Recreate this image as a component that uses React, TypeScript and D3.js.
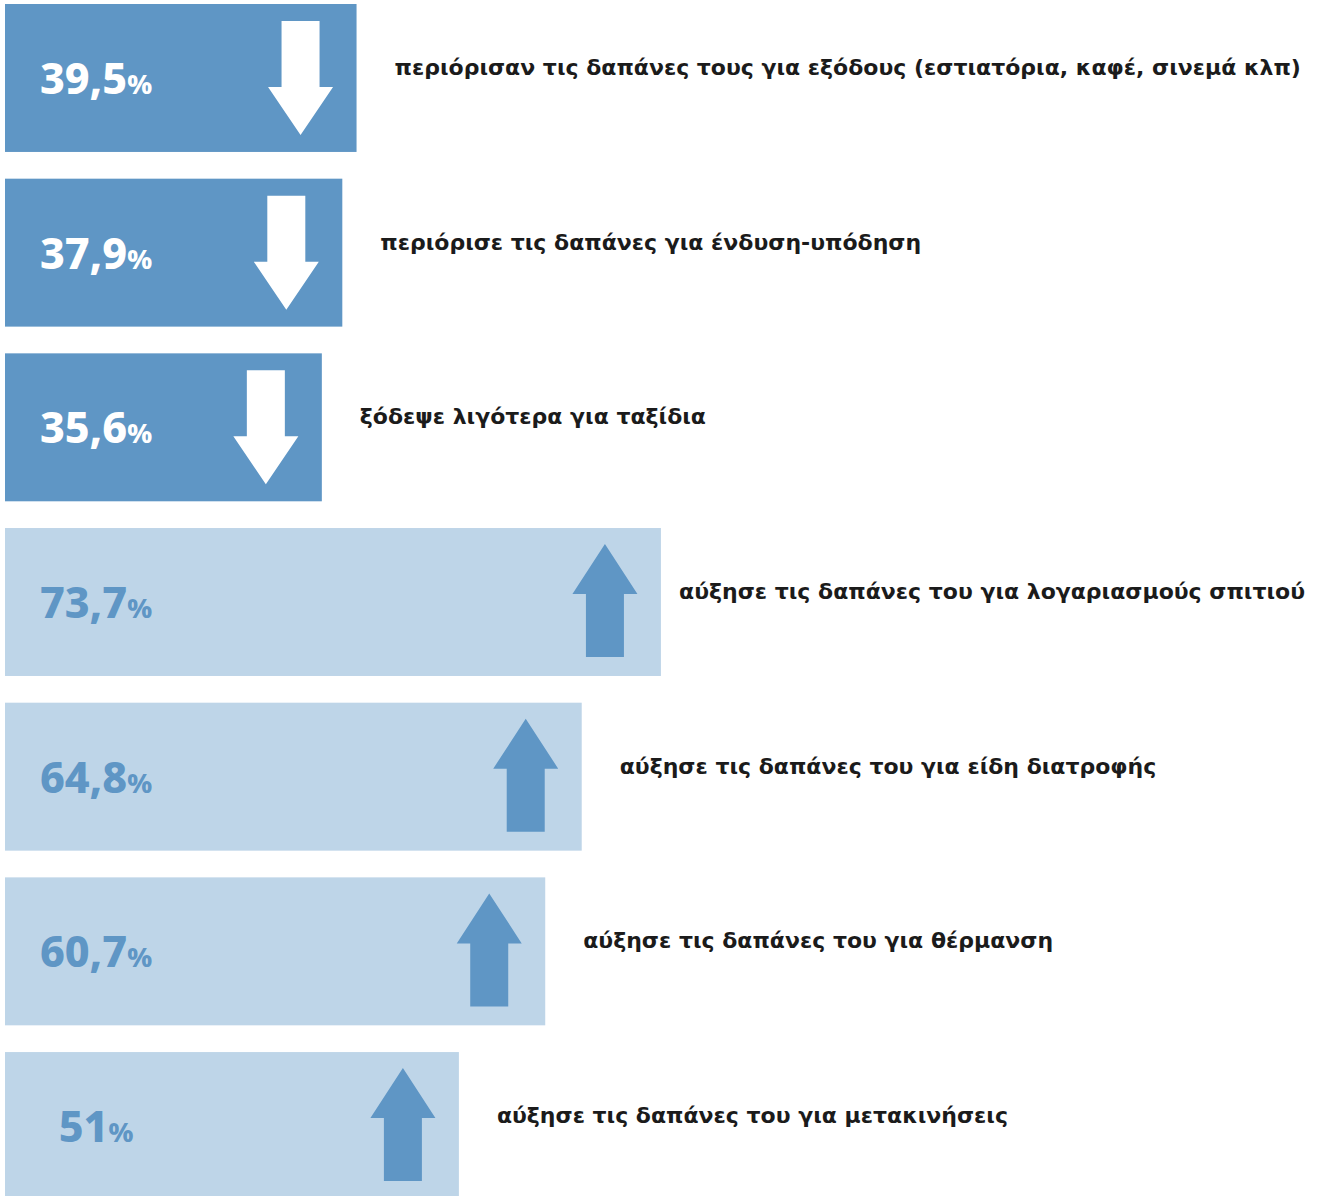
import { useRef, useLayoutEffect } from "react";
import * as d3 from "d3";

const categories = [
  "περιόρισαν τις δαπάνες τους για εξόδους (εστιατόρια, καφέ, σινεμά κλπ)",
  "περιόρισε τις δαπάνες για ένδυση-υπόδηση",
  "ξόδεψε λιγότερα για ταξίδια",
  "αύξησε τις δαπάνες του για λογαριασμούς σπιτιού",
  "αύξησε τις δαπάνες του για είδη διατροφής",
  "αύξησε τις δαπάνες του για θέρμανση",
  "αύξησε τις δαπάνες του για μετακινήσεις",
];
const values = [39.5, 37.9, 35.6, 73.7, 64.8, 60.7, 51];
const valueLabels = ["39,5", "37,9", "35,6", "73,7", "64,8", "60,7", "51"];
const directions = ["down", "down", "down", "up", "up", "up", "up"];

const WIDTH = 1317;
const HEIGHT = 1196;
const DARK = "#5f96c5";
const LIGHT = "#bed5e8";
const LABEL_FONT = "'DejaVu Sans', 'Noto Sans', sans-serif";
const VALUE_FONT = "'Noto Sans', 'DejaVu Sans', sans-serif";

function Arrow({ cx, top, dir, color }) {
  const shaftW = 38;
  const headW = 65;
  let pts;
  if (dir === "down") {
    const s = top + 17, b = top + 83, t = top + 131;
    pts = [
      [cx - shaftW / 2, s], [cx + shaftW / 2, s], [cx + shaftW / 2, b],
      [cx + headW / 2, b], [cx, t], [cx - headW / 2, b], [cx - shaftW / 2, b],
    ];
  } else {
    const t = top + 16, b = top + 66, e = top + 129;
    pts = [
      [cx, t], [cx + headW / 2, b], [cx + shaftW / 2, b], [cx + shaftW / 2, e],
      [cx - shaftW / 2, e], [cx - shaftW / 2, b], [cx - headW / 2, b],
    ];
  }
  return <path d={d3.line()(pts) + "Z"} fill={color} />;
}

export default function App() {
  const svgRef = useRef(null);
  const idx = categories.map((_, i) => i);
  const y = d3.scaleBand().domain(idx).range([4, 1200]).paddingInner(0.153).paddingOuter(0);
  const x = d3.scaleLinear().domain([0, 100]).range([5, 895]);

  // keep long labels inside the picture
  useLayoutEffect(() => {
    d3.select(svgRef.current)
      .selectAll("text.cat")
      .each(function () {
        const el = this;
        const w = el.getComputedTextLength();
        const x0 = +el.getAttribute("x");
        if (x0 + w > WIDTH - 12) el.setAttribute("x", WIDTH - 12 - w);
      });
  }, []);

  return (
    <>
      <style>{`body{margin:0}`}</style>
      <svg ref={svgRef} width={WIDTH} height={HEIGHT} style={{ display: "block" }}>
        {idx.map((i) => {
          const top = y(i);
          const h = y.bandwidth();
          const xEnd = x(values[i]);
          const down = directions[i] === "down";
          const cy = top + h / 2;
          return (
            <g key={i}>
              <rect x={x(0)} y={top} width={xEnd - x(0)} height={h} fill={down ? DARK : LIGHT} />
              <Arrow cx={xEnd - 56} top={top} dir={directions[i]} color={down ? "#ffffff" : DARK} />
              <text
                x={96}
                y={cy + 16}
                textAnchor="middle"
                fontFamily={VALUE_FONT}
                fontWeight={800}
                fontSize={43}
                fill={down ? "#ffffff" : DARK}
              >
                {valueLabels[i]}
                <tspan fontSize={27}>%</tspan>
              </text>
              <text
                className="cat"
                x={xEnd + 38}
                y={cy - 3}
                fontFamily={LABEL_FONT}
                fontWeight={700}
                fontSize={22}
                fill="#1b1b1b"
              >
                {categories[i]}
              </text>
            </g>
          );
        })}
      </svg>
    </>
  );
}
